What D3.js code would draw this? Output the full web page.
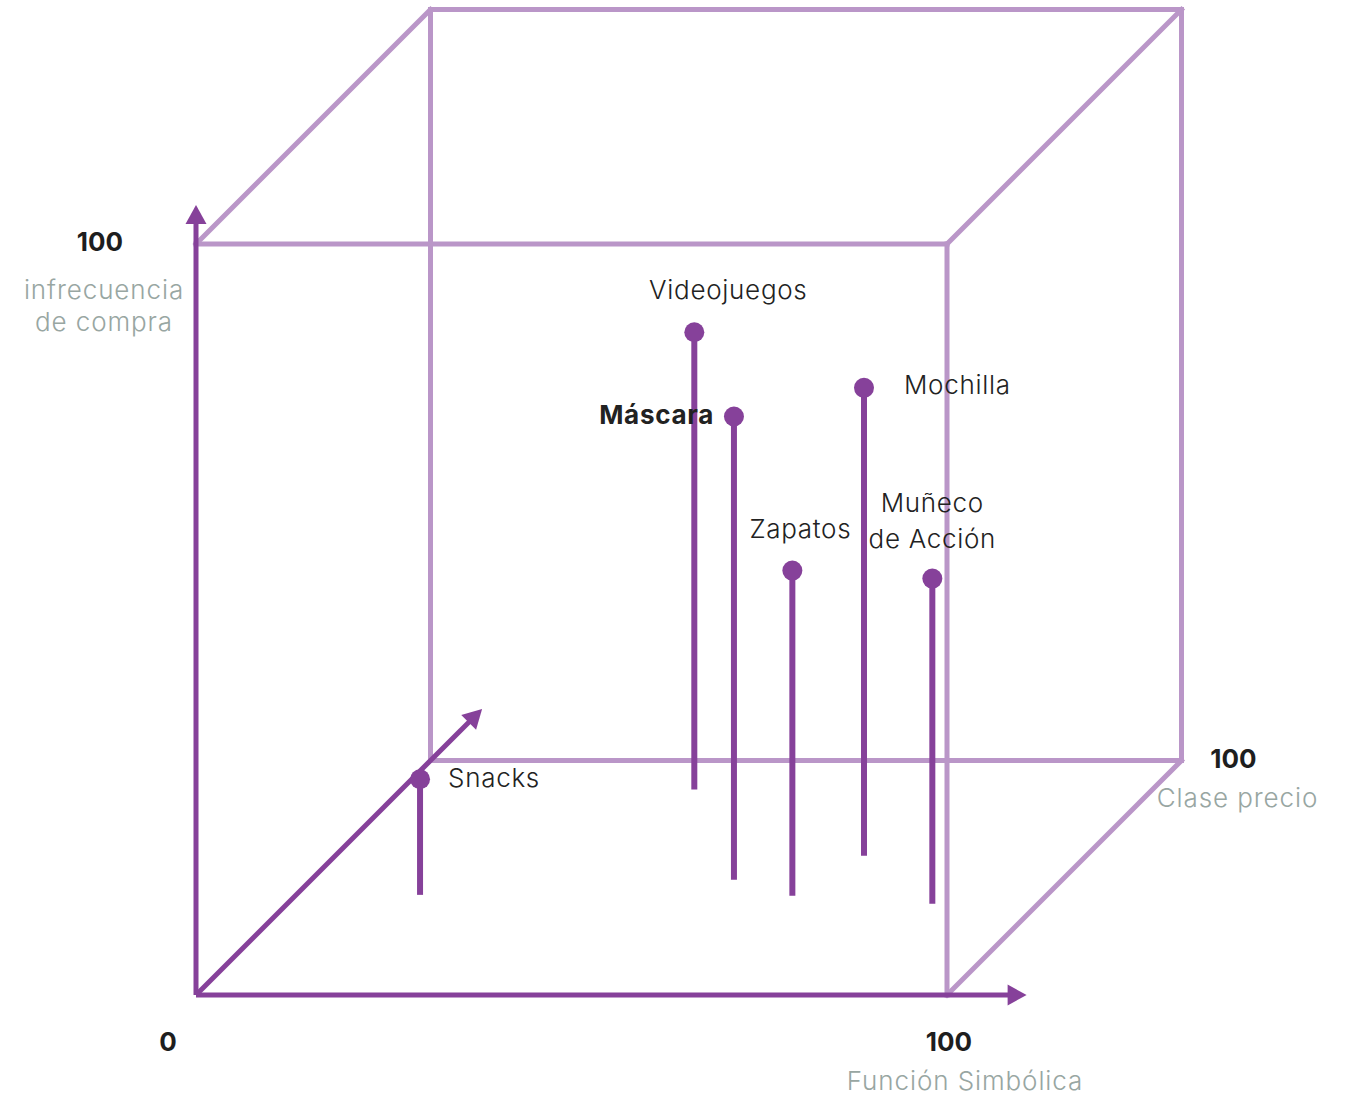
<!DOCTYPE html>
<html><head><meta charset="utf-8">
<script src="https://cdn.jsdelivr.net/npm/d3@7"></script>
<style>html,body{margin:0;padding:0;background:#fff;}svg{display:block;}</style>
</head><body>
<svg id="c" width="1359" height="1102"></svg>
<script>
// Data: x = Función Simbólica, y = infrecuencia de compra, z = Clase precio
const products = ["Snacks","Videojuegos","Máscara","Zapatos","Mochilla","Muñeco de Acción"];
const funcionSimbolica = [16.5, 39, 56.3, 66.2, 70.4, 85.9];
const infrecuencia     = [15.4, 60.9, 61.7, 43.3, 62.3, 43.3];
const clasePrecio      = [42.7, 87.6, 49.1, 42.3, 59.4, 38.9];
const axisTicks = ["0","100"];
const axisTitles = ["Función Simbólica","infrecuencia de compra","Clase precio"];

const svg = d3.select("#c");
const ox = 196, oy = 995;
const xs = d3.scaleLinear().domain([0,100]).range([0,751]);
const ys = d3.scaleLinear().domain([0,100]).range([0,751]);
const zs = d3.scaleLinear().domain([0,100]).range([0,234.5]);
const P = (x,y,z)=>[ox + xs(x) + zs(z), oy - ys(y) - zs(z)];

const dark = "#86419a", light = "#ba96c8";
const font = "Inter, 'Open Sans', sans-serif";

// cube edges (light)
const edges = [
  [[0,100,0],[100,100,0]],[[100,100,0],[100,0,0]],
  [[0,0,100],[100,0,100]],[[100,0,100],[100,100,100]],[[100,100,100],[0,100,100]],[[0,100,100],[0,0,100]],
  [[100,0,0],[100,0,100]],[[100,100,0],[100,100,100]],[[0,100,0],[0,100,100]]
];
const line = d3.line();
svg.append("g").selectAll("path").data(edges).join("path")
  .attr("d", d=>line(d.map(p=>P(...p))))
  .attr("fill","none").attr("stroke",light).attr("stroke-width",5).attr("stroke-linecap","square");

// axes (dark) with arrowheads
const axes = [
  {from:[0,0,0], to:[110.6,0,0]},
  {from:[0,0,0], to:[0,105.2,0]},
  {from:[0,0,0], to:[0,0,122]}
];
const ag = svg.append("g");
axes.forEach(a=>{
  const p0 = P(...a.from), p1 = P(...a.to);
  const dx = p1[0]-p0[0], dy = p1[1]-p0[1], L = Math.hypot(dx,dy);
  const ux = dx/L, uy = dy/L, nx = -uy, ny = ux;
  const hl = 19, hw = 10.5;
  const base = [p1[0]-ux*hl, p1[1]-uy*hl];
  ag.append("path").attr("d", line([p0, [base[0]+ux*2, base[1]+uy*2]]))
    .attr("stroke",dark).attr("stroke-width",5).attr("fill","none");
  ag.append("path").attr("d", line([p1,[base[0]+nx*hw,base[1]+ny*hw],[base[0]-nx*hw,base[1]-ny*hw]])+"Z")
    .attr("fill",dark);
});

// stems and dots
const data = products.map((p,i)=>({name:p, x:funcionSimbolica[i], y:infrecuencia[i], z:clasePrecio[i]}));
const mg = svg.append("g");
mg.selectAll("path").data(data).join("path")
  .attr("d", d=>line([P(d.x,0,d.z), P(d.x,d.y,d.z)]))
  .attr("stroke",dark).attr("stroke-width",6).attr("fill","none");
mg.selectAll("circle").data(data).join("circle")
  .attr("cx", d=>P(d.x,d.y,d.z)[0]).attr("cy", d=>P(d.x,d.y,d.z)[1])
  .attr("r",10).attr("fill",dark);

// labels (offsets relative to the dot)
const labelCfg = {
  "Snacks":{dx:28, dy:8, anchor:"start", weight:300, lines:["Snacks"]},
  "Videojuegos":{dx:34, dy:-33, anchor:"middle", weight:300, lines:["Videojuegos"]},
  "Máscara":{dx:-20, dy:8, anchor:"end", weight:700, lines:["Máscara"]},
  "Zapatos":{dx:8, dy:-33, anchor:"middle", weight:300, lines:["Zapatos"]},
  "Mochilla":{dx:40, dy:6, anchor:"start", weight:300, lines:["Mochilla"]},
  "Muñeco de Acción":{dx:0, dy:-67, anchor:"middle", weight:300, lines:["Muñeco","de Acción"]}
};
const lg = svg.append("g");
data.forEach(d=>{
  const c = labelCfg[d.name]; const p = P(d.x,d.y,d.z);
  const t = lg.append("text").attr("x",p[0]+c.dx).attr("y",p[1]+c.dy)
    .attr("text-anchor",c.anchor).attr("font-family",font).attr("font-size",26)
    .attr("letter-spacing",0.7)
    .attr("font-weight",c.weight).attr("fill","#222");
  c.lines.forEach((l,i)=>t.append("tspan").attr("x",p[0]+c.dx).attr("dy",i?36:0).text(l));
});

// axis tick labels
const tg = svg.append("g").attr("font-family",font).attr("font-size",26).attr("font-weight",700).attr("fill","#1e1e1e").attr("text-anchor","middle");
const o = P(0,0,0), xe = P(100,0,0), ye = P(0,100,0), ze = P(100,0,100);
tg.append("text").attr("x",o[0]-28).attr("y",o[1]+56).text(axisTicks[0]);
tg.append("text").attr("x",xe[0]+2).attr("y",xe[1]+56).text(axisTicks[1]);
tg.append("text").attr("x",ye[0]-96).attr("y",ye[1]+7).text(axisTicks[1]);
tg.append("text").attr("x",ze[0]+52).attr("y",ze[1]+7).text(axisTicks[1]);

// axis titles
const gg = svg.append("g").attr("font-family",font).attr("font-size",26).attr("font-weight",300)
  .attr("letter-spacing",0.9).attr("fill","#98a6a2").attr("text-anchor","middle");
gg.append("text").attr("x",xe[0]+18).attr("y",xe[1]+95).text(axisTitles[0]);
const yt = gg.append("text").attr("x",ye[0]-92).attr("y",ye[1]+55);
yt.append("tspan").attr("x",ye[0]-92).text("infrecuencia");
yt.append("tspan").attr("x",ye[0]-92).attr("dy",32).text("de compra");
gg.append("text").attr("x",ze[0]+56).attr("y",ze[1]+46).text(axisTitles[2]);
</script>
</body></html>
